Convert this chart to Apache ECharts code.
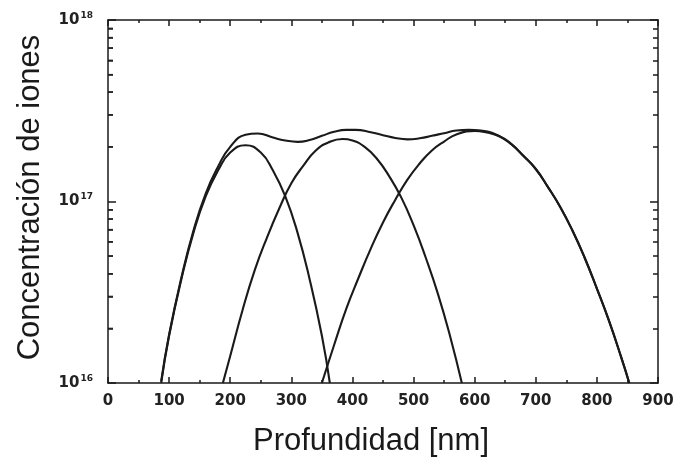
<!DOCTYPE html>
<html><head><meta charset="utf-8">
<script src="https://cdn.jsdelivr.net/npm/echarts@6/dist/echarts.min.js"></script>
<style>html,body{margin:0;padding:0;background:#fff}#c{width:675px;height:457px}</style>
</head><body><div id="c"></div>
<script>
// ---- data ----
const xTickLabels = ['0','100','200','300','400','500','600','700','800','900'];
const yMajorTicks = [1e16, 1e17, 1e18];
const yTickExponents = ['16', '17', '18'];
const yMinorTicks = [2e16,3e16,4e16,5e16,6e16,7e16,8e16,9e16,2e17,3e17,4e17,5e17,6e17,7e17,8e17,9e17];

// Profile 1 (shallow implant)
const depth1 = [87,100,120,140,160,180,200,225,250,270,290,310,330,350,363];
const conc1  = [1.00e16,1.82e16,3.72e16,6.76e16,1.07e17,1.48e17,1.86e17,2.04e17,1.86e17,1.48e17,1.07e17,6.76e16,3.72e16,1.82e16,1.00e16];

// Profile 2 (middle implant)
const depth2 = [188,200,220,240,260,280,300,320,340,360,384,400,420,440,460,480,500,520,540,560,579];
const conc2  = [1.00e16,1.41e16,2.51e16,4.17e16,6.31e16,9.12e16,1.26e17,1.58e17,1.91e17,2.11e17,2.21e17,2.17e17,2.00e17,1.72e17,1.38e17,1.05e17,7.41e16,4.90e16,3.09e16,1.80e16,1.00e16];

// Profile 3 (deep implant)
const depth3 = [350,370,390,410,430,450,470,490,510,530,550,570,600,620,640,660,680,700,720,740,760,780,800,820,840,853];
const conc3  = [1.00e16,1.62e16,2.57e16,3.80e16,5.50e16,7.67e16,1.02e17,1.32e17,1.62e17,1.91e17,2.14e17,2.34e17,2.45e17,2.40e17,2.29e17,2.07e17,1.78e17,1.51e17,1.20e17,9.33e16,6.92e16,4.90e16,3.31e16,2.19e16,1.38e16,1.00e16];

// Total profile
const depthT = [87,100,120,140,160,180,200,225,245,270,290,310,330,350,370,390,405,430,450,470,490,510,530,550,570,590,610,640,660,680,700,720,740,760,780,800,820,840,853];
const concT  = [1.02e16,1.85e16,3.80e16,6.94e16,1.11e17,1.555e17,2.00e17,2.33e17,2.37e17,2.25e17,2.17e17,2.13e17,2.18e17,2.30e17,2.42e17,2.48e17,2.48e17,2.41e17,2.32e17,2.24e17,2.20e17,2.23e17,2.30e17,2.38e17,2.46e17,2.48e17,2.46e17,2.30e17,2.07e17,1.78e17,1.51e17,1.20e17,9.33e16,6.92e16,4.90e16,3.31e16,2.19e16,1.38e16,1.00e16];

const xTitle = 'Profundidad [nm]';
const yTitle = 'Concentración de iones';

// ---- build ----
const pair = (xs, ys) => xs.map((x, i) => [x, ys[i]]);
const INK = '#1a1a1a';
const lineSeries = (xs, ys) => ({
  type: 'line', data: pair(xs, ys), xAxisIndex: 0, yAxisIndex: 0,
  smooth: 0.5, showSymbol: false, symbol: 'none', silent: true,
  lineStyle: { color: INK, width: 2.1 }, clip: true
});

const tickFont = { fontFamily: 'DejaVu Sans', fontWeight: 'bold', color: '#222' };
// keep the end decades a hair inside the extent so floating-point log rounding does not drop them
const safeMajor = () => yMajorTicks.map((v, i) => i === 0 ? v * 1.0000001 : (i === yMajorTicks.length - 1 ? v * 0.9999999 : v));
const minorCopy = () => yMinorTicks.slice();
const expOf = v => { const i = yMajorTicks.findIndex(t => Math.abs(t - v) / t < 1e-5); return i >= 0 ? yTickExponents[i] : ''; };

const PLOT = { left: 108, right: 17, top: 20, bottom: 74, outerBoundsMode: 'none', containLabel: false };
const xBase = { type: 'value', min: 0, max: 900, interval: 100, splitLine: { show: false } };
const yBase = { type: 'log', logBase: 10, min: 1e16, max: 1e18, splitLine: { show: false } };
const axLine = { show: true, onZero: false, lineStyle: { color: INK, width: 1.5 } };
const noLine = { show: false, onZero: false };
const tickStyle = { color: INK, width: 1.5 };

const option = {
  backgroundColor: '#fff',
  animation: false,
  grid: [Object.assign({}, PLOT), Object.assign({}, PLOT)],
  xAxis: [
    Object.assign({}, xBase, {
      gridIndex: 0, position: 'bottom',
      axisLine: axLine,
      axisTick: { show: true, inside: true, length: 6, lineStyle: tickStyle },
      minorTick: { show: true, splitNumber: 2, length: 3, lineStyle: tickStyle },
      axisLabel: Object.assign({ margin: 11, fontSize: 15, formatter: v => xTickLabels[Math.round(v / 100)] }, tickFont),
      name: xTitle, nameLocation: 'middle', nameGap: 43,
      nameTextStyle: { fontFamily: 'Liberation Sans', fontSize: 31, color: INK, padding: [0, 24, 0, 0] }
    }),
    Object.assign({}, xBase, {
      gridIndex: 0, position: 'top',
      axisLine: axLine,
      axisTick: { show: true, inside: true, length: 6, lineStyle: tickStyle },
      minorTick: { show: true, splitNumber: 2, length: 3, lineStyle: tickStyle },
      axisLabel: { show: false }
    }),
    Object.assign({}, xBase, { gridIndex: 1, show: false, axisLine: noLine })
  ],
  yAxis: [
    Object.assign({}, yBase, {
      gridIndex: 0, position: 'left',
      axisLine: axLine,
      axisTick: { show: true, inside: true, length: 8, customValues: safeMajor(), lineStyle: tickStyle },
      axisLabel: {
        customValues: safeMajor(),
        showMaxLabel: true, showMinLabel: true,
        margin: 15,
        formatter: v => '{b|10}{s|' + expOf(v) + '}',
        rich: {
          b: Object.assign({ fontSize: 15 }, tickFont),
          s: Object.assign({ fontSize: 9, verticalAlign: 'bottom', padding: [0, 0, 9, 1] }, tickFont)
        }
      },
      name: yTitle, nameLocation: 'middle', nameGap: 62, nameRotate: 90,
      nameTextStyle: { fontFamily: 'Liberation Sans', fontSize: 31, color: INK, padding: [0, 0, 0, 8] }
    }),
    Object.assign({}, yBase, {
      gridIndex: 0, position: 'right',
      axisLine: axLine,
      axisTick: { show: true, inside: true, length: 8, customValues: safeMajor(), lineStyle: tickStyle },
      axisLabel: { show: false }
    }),
    Object.assign({}, yBase, {
      gridIndex: 1, position: 'left',
      axisLine: noLine,
      axisTick: { show: true, inside: true, length: 5, customValues: minorCopy(), lineStyle: tickStyle },
      axisLabel: { show: false }
    }),
    Object.assign({}, yBase, {
      gridIndex: 1, position: 'right',
      axisLine: noLine,
      axisTick: { show: true, inside: true, length: 5, customValues: minorCopy(), lineStyle: tickStyle },
      axisLabel: { show: false }
    })
  ],
  series: [
    lineSeries(depth1, conc1),
    lineSeries(depth2, conc2),
    lineSeries(depth3, conc3),
    lineSeries(depthT, concT),
    // left-side minor log ticks, placed through the chart's own log scale at depth 0
    {
      type: 'scatter', xAxisIndex: 0, yAxisIndex: 0, silent: true, clip: false,
      data: yMinorTicks.map(v => [0, v]),
      symbol: 'rect', symbolSize: [5, 1.5], symbolOffset: [2.5, 0],
      itemStyle: { color: INK }, z: 3
    }
  ]
};

const chart = echarts.init(document.getElementById('c'), null, { renderer: 'canvas' });
chart.setOption(option);
</script>
</body></html>
